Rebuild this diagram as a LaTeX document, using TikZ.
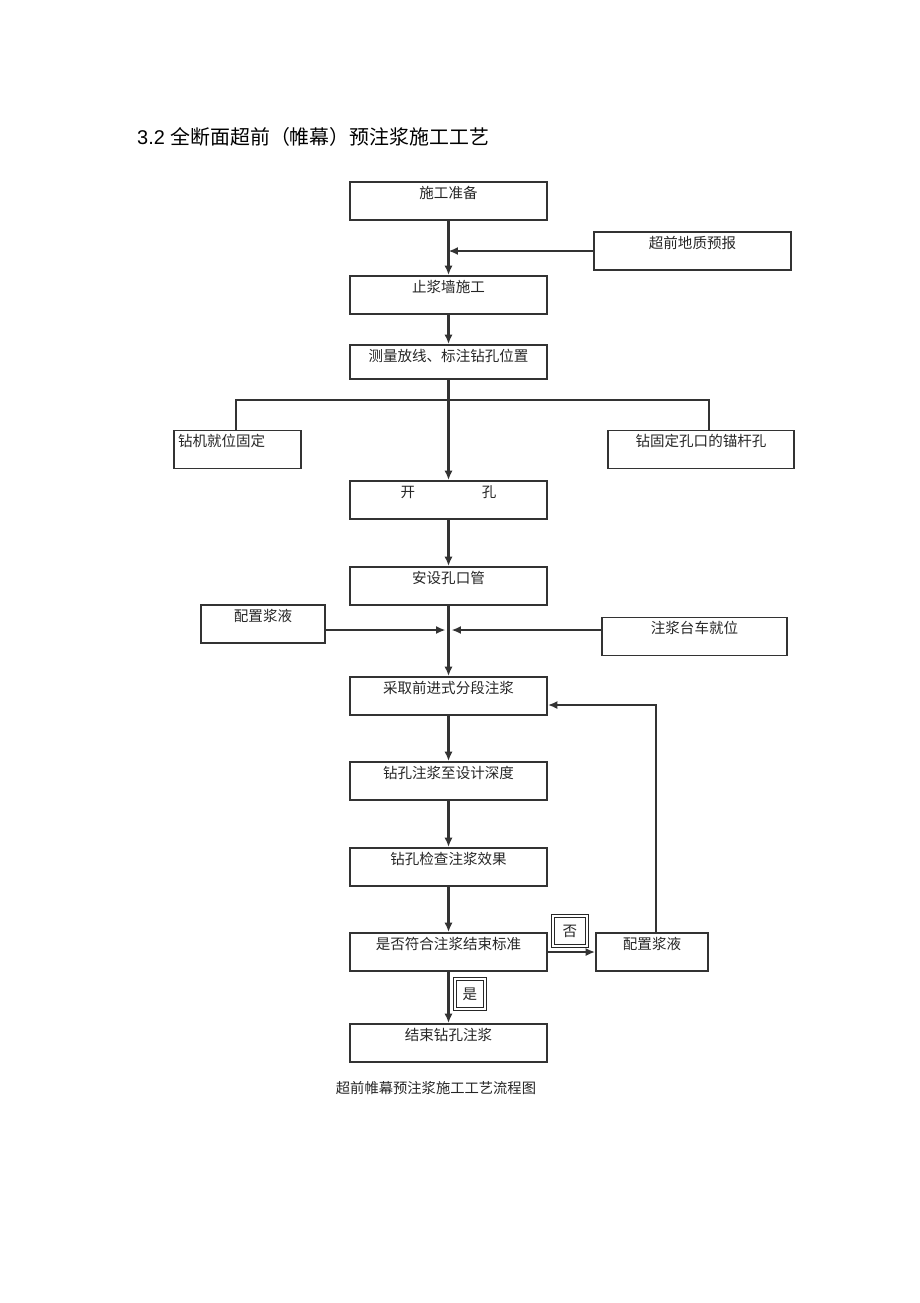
\documentclass[tikz,border=0pt]{standalone}
\usepackage{fontspec}
\setmainfont{Liberation Serif}
\newfontfamily\cjk{Noto Sans CJK SC}
\newfontfamily\titlefont{Liberation Sans}
\usetikzlibrary{calc,arrows.meta}

\tikzset{
  box/.style={draw=black!80, line width=1.6pt, minimum width=197*0.03cm, inner xsep=0pt, inner ysep=0pt,
    text height=0.48cm, text depth=0.66cm, font=\cjk\fontsize{12.4}{14}\selectfont, text=black!85},
  flow/.style={draw=black!80, line width=1.9pt},
  flagbox/.style={draw=black!85, line width=1.2pt, double=white, double distance=1.2pt, inner sep=0pt,
    font=\cjk\fontsize{12.4}{14}\selectfont, text=black!85}
}

\begin{document}
\begin{tikzpicture}[x=0.03cm, y=-0.03cm, >={Latex[length=0.28cm,width=0.24cm]}]
\useasboundingbox (0,0) rectangle (920,1303);

% title
\node[anchor=west, inner sep=0pt] (title) at (137,137) {\fontsize{17}{20}\selectfont\titlefont 3.2 {\cjk 全断面超前（帷幕）预注浆施工工艺}};

% boxes
\node[box] (prep) at (448.5,201) {施工准备};
\node[box] (forecast) at (692.5,251) {超前地质预报};
\node[box] (wall) at (448.5,295) {止浆墙施工};
\node[box, text depth=0.54cm] (survey) at (448.5,362) {测量放线、标注钻孔位置};
\node[box, minimum width=127*0.03cm, text width=119*0.03cm, align=left] (rig) at (237.5,449.5) {钻机就位固定};
\node[box, minimum width=186*0.03cm] (anchor) at (701,449.5) {钻固定孔口的锚杆孔};
\node[box] (openhole) at (448.5,500) {开\hspace{2cm}孔};
\node[box] (pipe) at (448.5,586) {安设孔口管};
\node[box, minimum width=124*0.03cm] (mixL) at (263,624) {配置浆液};
\node[box, minimum width=185*0.03cm] (trolley) at (694.5,636.5) {注浆台车就位};
\node[box] (grout) at (448.5,696) {采取前进式分段注浆};
\node[box] (depth) at (448.5,781) {钻孔注浆至设计深度};
\node[box] (check) at (448.5,867) {钻孔检查注浆效果};
\node[box] (judge) at (448.5,952) {是否符合注浆结束标准};
\node[box, minimum width=112*0.03cm] (mixR) at (652,952) {配置浆液};
\node[box] (finish) at (448.5,1043) {结束钻孔注浆};

% yes / no labels
\node[flagbox, minimum width=34*0.03cm, minimum height=30*0.03cm] (no) at (570,931) {否};
\node[flagbox, minimum width=30*0.03cm, minimum height=30*0.03cm] (yes) at (470,994) {是};

% caption
\node[font=\cjk\fontsize{12.2}{14}\selectfont, text=black!85] (caption) at (436,1088) {超前帷幕预注浆施工工艺流程图};

% connectors
\draw[flow,->] (prep) -- (wall);
\draw[flow,->] (forecast.west) -- (forecast.west -| prep.south);
\draw[flow,->] (wall) -- (survey);
\draw[flow,->] (survey) -- (openhole);

\coordinate (bl) at (236,400);
\coordinate (br) at (709,400);
\draw[flow] (bl |- rig.north) -- (bl) -- (br) -- (br |- anchor.north);

\draw[flow,->] (openhole) -- (pipe);
\draw[flow,->] (pipe) -- (grout);
\coordinate (jn) at (448.5,630);
\draw[flow,->] (mixL.east |- jn) -- ($(jn)+(-3,0)$);
\draw[flow,->] (trolley.west |- jn) -- ($(jn)+(3,0)$);

\draw[flow,->] (grout) -- (depth);
\draw[flow,->] (depth) -- (check);
\draw[flow,->] (check) -- (judge);
\draw[flow,->] (judge) -- (finish);
\draw[flow,->] (judge.east) -- (mixR.west);

\coordinate (fb) at (656,705);
\draw[flow,->] (mixR.north -| fb) |- (grout.east |- fb);
\end{tikzpicture}
\end{document}
